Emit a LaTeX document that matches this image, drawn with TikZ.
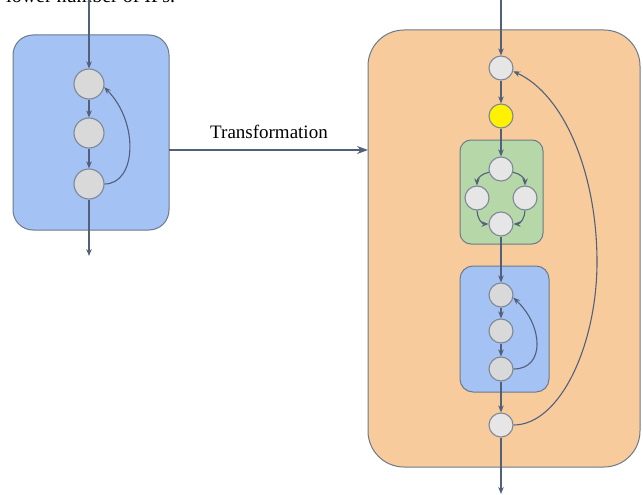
\documentclass[tikz,border=0pt]{standalone}
\usepackage{fontspec}
\setmainfont{Liberation Serif}
\usetikzlibrary{arrows.meta}
\definecolor{edge}{HTML}{52607A}
\definecolor{rim}{HTML}{6C7A89}
\definecolor{nodegray}{HTML}{7E8896}
\definecolor{bluefill}{HTML}{A4C2F4}
\definecolor{orangefill}{HTML}{F8CB9C}
\definecolor{greenfill}{HTML}{B6D7A8}
\definecolor{lightdot}{HTML}{E6E6E6}
\definecolor{darkdot}{HTML}{D9D9D9}
\tikzset{
  flow/.style={draw=edge, line width=1.1pt, -{Stealth[length=7pt,width=5.5pt]}},
  plain/.style={draw=edge, line width=1.1pt},
  bigdot/.style={circle, draw=nodegray, line width=1.1pt, fill=darkdot, minimum size=30pt, inner sep=0pt},
  smalldot/.style={circle, draw=nodegray, line width=1.1pt, fill=lightdot, minimum size=24pt, inner sep=0pt},
  panel/.style={draw=rim, line width=1pt},
  caption/.style={font=\fontsize{19}{22}\selectfont, text=black, inner sep=0pt}
}
\begin{document}
\begin{tikzpicture}[x=1pt, y=-1pt]
\useasboundingbox (0,0) rectangle (643,495);
\clip (0,0) rectangle (643,495);
\fill[white] (0,0) rectangle (643,495);

% caption line running off the top edge
\node[caption, anchor=base west, font=\fontsize{20}{23}\selectfont] (topline) at (6,2.5) {lower number of IPs.};

% ---------- left block ----------
\draw[panel, fill=bluefill, rounded corners=20pt] (13,35) rectangle (169,230);
\coordinate (lin) at (89,0);
\coordinate (lout) at (89,256);
\node[bigdot] (l1) at (89,84) {};
\node[bigdot] (l2) at (89,133) {};
\node[bigdot] (l3) at (89,184) {};
\draw[flow] (lin) -- (l1);
\draw[flow] (l1) -- (l2);
\draw[flow] (l2) -- (l3);
\draw[flow] (l3) -- (lout);
\draw[flow] (l3.east) .. controls +(32,0) and +(35,35) .. (l1.-12);

% ---------- transformation arrow ----------
\coordinate (tfrom) at (169,150);
\coordinate (tto) at (368,150);
\draw[flow, -{Stealth[length=11pt,width=8pt]}] (tfrom) -- (tto);
\node[caption, anchor=base] (tlabel) at (269,138) {Transformation};

% ---------- right block ----------
\draw[panel, fill=orangefill, rounded corners=36pt] (368,30) rectangle (640,467);
\draw[panel, fill=greenfill, rounded corners=11pt] (460,140) rectangle (543,244);
\draw[panel, fill=bluefill, rounded corners=13pt] (460,266) rectangle (549,392);

\coordinate (rin) at (501,0);
\coordinate (rout) at (501,494);
\node[smalldot] (r1) at (501,68) {};
\node[smalldot, fill=yellow] (ry) at (501,116) {};
\node[smalldot] (gt) at (501,169) {};
\node[smalldot] (gl) at (477,198) {};
\node[smalldot] (gr) at (525,198) {};
\node[smalldot] (gb) at (501,224) {};
\node[smalldot, fill=darkdot] (b1) at (501,295) {};
\node[smalldot, fill=darkdot] (b2) at (501,331) {};
\node[smalldot, fill=darkdot] (b3) at (501,369) {};
\node[smalldot] (r2) at (501,425) {};

\draw[flow] (rin) -- (r1);
\draw[flow] (r1) -- (ry);
\draw[flow] (ry) -- (gt);
\draw[flow] (gt.195) to[out=190, in=90] (gl.north);
\draw[flow] (gt.-15) to[out=-10, in=90] (gr.north);
\draw[flow] (gl.south) to[out=-90, in=180] (gb.west);
\draw[flow] (gr.south) to[out=-90, in=0] (gb.east);
\draw[flow] (gb) -- (b1);
\draw[flow] (b1) -- (b2);
\draw[flow] (b2) -- (b3);
\draw[flow] (b3.east) .. controls +(32,0) and +(30,28) .. (b1.-12);
\draw[flow] (b3) -- (r2);
\draw[flow] (r2) -- (rout);

% long feedback loop
\coordinate (loopmid) at (597,262);
\draw[plain] (r2.east) .. controls (560,425) and (597,345) .. (loopmid);
\draw[flow] (loopmid) .. controls (597,175) and (565,95) .. (r1.-15);
\end{tikzpicture}
\end{document}
